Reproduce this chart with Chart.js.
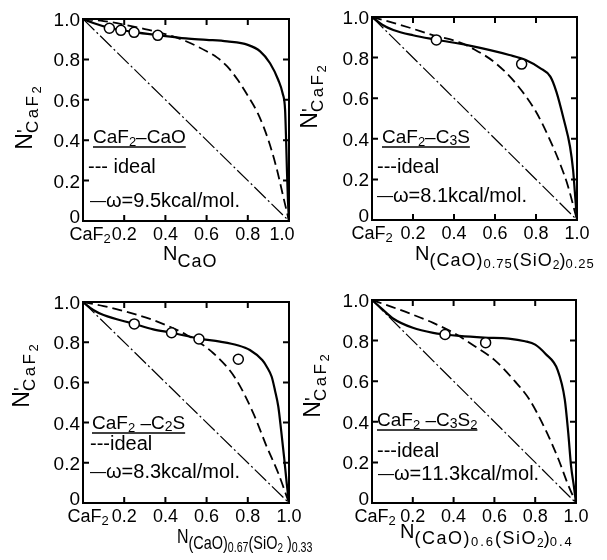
<!DOCTYPE html>
<html><head><meta charset="utf-8">
<script src="https://cdn.jsdelivr.net/npm/chart.js@4/dist/chart.umd.min.js"></script>
<style>
html,body{margin:0;padding:0;background:#fff;}
#wrap{position:relative;width:607px;height:560px;overflow:hidden;background:#fff;}
canvas{position:absolute;left:0;top:0;}
</style></head><body>
<div id="wrap">
<canvas id="c1" width="607" height="560"></canvas>
<canvas id="c2" width="607" height="560"></canvas>
<canvas id="c3" width="607" height="560"></canvas>
<canvas id="c4" width="607" height="560"></canvas>
</div>
<script>
// ---- shared axis ticks ----
const tickValues = [0, 0.2, 0.4, 0.6, 0.8, 1.0];
const yTickLabels = ['0', '0.2', '0.4', '0.6', '0.8', '1.0'];
const xTickLabels = ['CaF2', '0.2', '0.4', '0.6', '0.8', '1.0'];
const innerTicks = [0.2, 0.4, 0.6, 0.8];
const diagX = [0, 1];
const diagY = [1, 0];

// ---- Panel 1: CaF2-CaO ----
const p1IdealX = [0, 0.1, 0.2, 0.3, 0.4, 0.5, 0.6, 0.65, 0.7, 0.75, 0.8, 0.85, 0.9, 0.94, 0.97, 1];
const p1IdealY = [1, 0.99, 0.972, 0.95, 0.925, 0.89, 0.84, 0.81, 0.765, 0.70, 0.62, 0.53, 0.40, 0.26, 0.13, 0];
const p1OmegaX = [0, 0.05, 0.128, 0.184, 0.248, 0.363, 0.5, 0.6, 0.7, 0.8, 0.86, 0.908, 0.948, 0.969, 0.981, 0.986, 0.99, 0.995, 1];
const p1OmegaY = [1, 0.98, 0.956, 0.946, 0.935, 0.92, 0.904, 0.897, 0.889, 0.872, 0.84, 0.781, 0.698, 0.632, 0.55, 0.4, 0.25, 0.1, 0];
const p1ExpX = [0.128, 0.184, 0.248, 0.363];
const p1ExpY = [0.954, 0.944, 0.934, 0.919];

// ---- Panel 2: CaF2-C3S ----
const p2IdealX = [0, 0.1, 0.184, 0.3, 0.427, 0.5, 0.6, 0.7, 0.8, 0.87, 0.92, 0.955, 1];
const p2IdealY = [1, 0.972, 0.947, 0.91, 0.875, 0.84, 0.775, 0.675, 0.533, 0.39, 0.27, 0.17, 0];
const p2OmegaX = [0, 0.05, 0.104, 0.2, 0.314, 0.476, 0.67, 0.75, 0.82, 0.87, 0.9, 0.935, 0.966, 0.981, 0.99, 1];
const p2OmegaY = [1, 0.962, 0.936, 0.91, 0.888, 0.859, 0.813, 0.788, 0.748, 0.706, 0.63, 0.497, 0.361, 0.246, 0.131, 0];
const p2ExpX = [0.314, 0.73];
const p2ExpY = [0.887, 0.768];

// ---- Panel 3: CaF2-C2S ----
const p3IdealX = [0, 0.1, 0.18, 0.341, 0.503, 0.633, 0.74, 0.827, 0.892, 0.948, 1];
const p3IdealY = [1, 0.98, 0.96, 0.91, 0.836, 0.745, 0.62, 0.446, 0.28, 0.148, 0];
const p3OmegaX = [0, 0.05, 0.1, 0.249, 0.341, 0.43, 0.563, 0.665, 0.75, 0.81, 0.87, 0.892, 0.916, 0.932, 0.948, 0.962, 0.976, 0.989, 1];
const p3OmegaY = [1, 0.96, 0.935, 0.891, 0.864, 0.847, 0.818, 0.803, 0.785, 0.761, 0.711, 0.678, 0.628, 0.56, 0.48, 0.36, 0.23, 0.098, 0];
const p3ExpX = [0.249, 0.43, 0.563, 0.754];
const p3ExpY = [0.891, 0.847, 0.816, 0.715];

// ---- Panel 4: CaF2-C3S2 ----
const p4IdealX = [0, 0.1, 0.184, 0.3, 0.4, 0.5, 0.6, 0.7, 0.77, 0.85, 0.915, 0.958, 1];
const p4IdealY = [1, 0.965, 0.934, 0.887, 0.838, 0.775, 0.705, 0.6, 0.512, 0.362, 0.213, 0.098, 0];
const p4OmegaX = [0, 0.05, 0.103, 0.2, 0.3, 0.358, 0.427, 0.55, 0.67, 0.75, 0.8, 0.85, 0.91, 0.945, 0.962, 0.976, 0.99, 1];
const p4OmegaY = [1, 0.955, 0.909, 0.863, 0.838, 0.83, 0.823, 0.815, 0.81, 0.797, 0.78, 0.735, 0.655, 0.51, 0.345, 0.18, 0.08, 0];
const p4ExpX = [0.358, 0.557];
const p4ExpY = [0.83, 0.79];

// ---- text pieces ----
const FONT = '"Liberation Sans", Arial, sans-serif';

const yTitleSegs = [
  { t: 'N', s: 23 }, { t: '\'', s: 20, dy: -1, noAdv: true },
  { t: 'CaF', s: 17, dy: 6, ls: 2.5 }, { t: '2', s: 13, dy: 9 }
];

const panels = [
  {
    id: 'c1', pad: { left: 83, top: 19, right: 318, bottom: 339 },
    ideal: [p1IdealX, p1IdealY], omega: [p1OmegaX, p1OmegaY], exp: [p1ExpX, p1ExpY],
    firstShift: 7, lastShift: -7,
    yTitle: { cx: 27, cy: 118 },
    xTitle: { x: 163, y: 260, sx: 1, segs: [{ t: 'N', s: 20 }, { t: 'CaO', s: 18, dy: 7, ls: 1 }] },
    sys: { dx: 10, dy: 124, segs: [{ t: 'CaF', s: 19 }, { t: '2', s: 13, dy: 3 }, { t: '\u2013CaO', s: 19 }] },
    ideal_t: { dx: 5, dy: 154, segs: [{ t: '--- ideal', s: 20 }] },
    omega_t: { dx: 7, dy: 188, segs: [{ t: '\u2014', s: 16, dy: -1 }, { t: '\u03c9=9.5kcal/mol.', s: 20 }] }
  },
  {
    id: 'c2', pad: { left: 372, top: 17, right: 30, bottom: 340 },
    ideal: [p2IdealX, p2IdealY], omega: [p2OmegaX, p2OmegaY], exp: [p2ExpX, p2ExpY],
    firstShift: 0, lastShift: 0,
    yTitle: { cx: 312, cy: 97 },
    xTitle: { x: 415, y: 260, sx: 1, segs: [{ t: 'N', s: 20 }, { t: '(CaO)', s: 18, dy: 6, ls: 1 }, { t: '0.75', s: 13, dy: 8, ls: 1 },
      { t: '(SiO', s: 18, dy: 6, ls: 1 }, { t: '2', s: 12, dy: 9 }, { t: ')', s: 18, dy: 6 }, { t: '0.25', s: 13, dy: 8, ls: 1 }] },
    sys: { dx: 10, dy: 126, segs: [{ t: 'CaF', s: 19 }, { t: '2', s: 13, dy: 3 }, { t: '\u2013C', s: 19 }, { t: '3', s: 14, dy: 2 }, { t: 'S', s: 19 }] },
    ideal_t: { dx: 5, dy: 156, segs: [{ t: '---ideal', s: 20 }] },
    omega_t: { dx: 5, dy: 185, segs: [{ t: '\u2014', s: 16, dy: -1 }, { t: '\u03c9=8.1kcal/mol.', s: 20 }] }
  },
  {
    id: 'c3', pad: { left: 83, top: 302, right: 318, bottom: 57 },
    ideal: [p3IdealX, p3IdealY], omega: [p3OmegaX, p3OmegaY], exp: [p3ExpX, p3ExpY],
    firstShift: 5, lastShift: 0,
    yTitle: { cx: 24, cy: 376 },
    xTitle: { x: 177, y: 543, sx: 0.76, segs: [{ t: 'N', s: 21 }, { t: '(CaO)', s: 19, dy: 6 }, { t: '0.67', s: 14, dy: 9 },
      { t: '(SiO', s: 19, dy: 6 }, { t: '2', s: 13, dy: 9 }, { t: ' )', s: 19, dy: 6 }, { t: '0.33', s: 14, dy: 9 }] },
    sys: { dx: 9, dy: 127, segs: [{ t: 'CaF', s: 19 }, { t: '2', s: 13, dy: 3 }, { t: ' \u2013C', s: 19 }, { t: '2', s: 14, dy: 2 }, { t: 'S', s: 19 }] },
    ideal_t: { dx: 7, dy: 148, segs: [{ t: '---ideal', s: 20 }] },
    omega_t: { dx: 7, dy: 176, segs: [{ t: '\u2014', s: 16, dy: -1 }, { t: '\u03c9=8.3kcal/mol.', s: 20 }] }
  },
  {
    id: 'c4', pad: { left: 372, top: 300, right: 31, bottom: 57 },
    ideal: [p4IdealX, p4IdealY], omega: [p4OmegaX, p4OmegaY], exp: [p4ExpX, p4ExpY],
    firstShift: 3, lastShift: 0,
    yTitle: { cx: 315, cy: 386 },
    xTitle: { x: 400, y: 538, sx: 1, segs: [{ t: 'N', s: 20 }, { t: '(CaO)', s: 18, dy: 6, ls: 1.5 }, { t: '0.6', s: 13, dy: 8, ls: 2 },
      { t: '(SiO', s: 18, dy: 6, ls: 1.5 }, { t: '2', s: 12, dy: 9 }, { t: ')', s: 18, dy: 6 }, { t: '0.4', s: 13, dy: 8, ls: 2 }] },
    sys: { dx: 5, dy: 126, segs: [{ t: 'CaF', s: 19 }, { t: '2', s: 13, dy: 3 }, { t: ' \u2013C', s: 19 }, { t: '3', s: 14, dy: 2 }, { t: 'S', s: 19 }, { t: '2', s: 13, dy: 3 }] },
    ideal_t: { dx: 5, dy: 157, segs: [{ t: '---ideal', s: 20 }] },
    omega_t: { dx: 6, dy: 180, segs: [{ t: '\u2014', s: 16, dy: -1 }, { t: '\u03c9=11.3kcal/mol.', s: 20 }] }
  }
];

function richWidth(ctx, segs) {
  let w = 0;
  for (const s of segs) {
    ctx.font = s.s + 'px ' + FONT;
    const ls = s.ls || 0;
    let sw = 0;
    for (const ch of s.t) sw += ctx.measureText(ch).width + ls;
    if (!s.noAdv) w += sw;
  }
  return w;
}
function drawRich(ctx, segs, x, y) {
  let cx = x;
  for (const s of segs) {
    ctx.font = s.s + 'px ' + FONT;
    const ls = s.ls || 0;
    let px = cx;
    for (const ch of s.t) {
      ctx.fillText(ch, px, y + (s.dy || 0));
      px += ctx.measureText(ch).width + ls;
    }
    if (!s.noAdv) cx = px;
  }
  return cx - x;
}

function pts(xs, ys) { return xs.map((x, i) => ({ x: x, y: ys[i] })); }

function decorPlugin(p) {
  return {
    id: 'decor_' + p.id,
    afterDraw(chart) {
      const ctx = chart.ctx, a = chart.chartArea;
      const xs = chart.scales.x, ys = chart.scales.y;
      ctx.save();
      ctx.strokeStyle = '#000';
      ctx.fillStyle = '#000';
      ctx.lineWidth = 2;
      ctx.setLineDash([]);
      ctx.strokeRect(a.left, a.top, a.right - a.left, a.bottom - a.top);
      const tl = 6;
      ctx.beginPath();
      for (const v of innerTicks) {
        const px = xs.getPixelForValue(v);
        ctx.moveTo(px, a.bottom); ctx.lineTo(px, a.bottom - tl);
        ctx.moveTo(px, a.top); ctx.lineTo(px, a.top + tl);
        const py = ys.getPixelForValue(v);
        ctx.moveTo(a.left, py); ctx.lineTo(a.left + tl, py);
        ctx.moveTo(a.right, py); ctx.lineTo(a.right - tl, py);
      }
      ctx.stroke();
      // y tick labels
      ctx.textBaseline = 'alphabetic';
      ctx.textAlign = 'right';
      ctx.font = '19px ' + FONT;
      tickValues.forEach((v, i) => {
        const py = ys.getPixelForValue(v);
        const off = (i === 0) ? -5 : 0;
        ctx.fillText(yTickLabels[i], a.left - 3, py + 7 + off);
      });
      // x tick labels
      ctx.textAlign = 'left';
      tickValues.forEach((v, i) => {
        const lab = xTickLabels[i];
        let segs;
        if (lab === 'CaF2') segs = [{ t: 'CaF', s: 18 }, { t: '2', s: 13, dy: 3 }];
        else segs = [{ t: lab, s: 18 }];
        const w = richWidth(ctx, segs);
        let px = xs.getPixelForValue(v) - w / 2;
        if (i === 0) px += p.firstShift;
        if (i === tickValues.length - 1) px += p.lastShift;
        drawRich(ctx, segs, px, a.bottom + 19);
      });
      // y title (rotated)
      ctx.save();
      ctx.translate(p.yTitle.cx, p.yTitle.cy);
      ctx.rotate(-Math.PI / 2);
      const tw = richWidth(ctx, yTitleSegs);
      drawRich(ctx, yTitleSegs, -tw / 2, 5);
      ctx.restore();
      // x title
      ctx.save();
      ctx.translate(p.xTitle.x, p.xTitle.y);
      ctx.scale(p.xTitle.sx, 1);
      drawRich(ctx, p.xTitle.segs, 0, 0);
      ctx.restore();
      // legend texts
      const sx = a.left + p.sys.dx, sy = a.top + p.sys.dy;
      const sw = drawRich(ctx, p.sys.segs, sx, sy);
      ctx.lineWidth = 1.5;
      ctx.beginPath();
      ctx.moveTo(sx, sy + 4); ctx.lineTo(sx + sw, sy + 4);
      ctx.stroke();
      drawRich(ctx, p.ideal_t.segs, a.left + p.ideal_t.dx, a.top + p.ideal_t.dy);
      drawRich(ctx, p.omega_t.segs, a.left + p.omega_t.dx, a.top + p.omega_t.dy);
      ctx.restore();
    }
  };
}

for (const p of panels) {
  new Chart(document.getElementById(p.id), {
    type: 'scatter',
    data: {
      datasets: [
        { label: 'exp', data: pts(p.exp[0], p.exp[1]), order: 0, showLine: false,
          pointStyle: 'circle', pointRadius: 5, pointBackgroundColor: '#fff',
          pointBorderColor: '#000', pointBorderWidth: 1.5 },
        { label: 'omega', data: pts(p.omega[0], p.omega[1]), order: 1, showLine: true,
          borderColor: '#000', borderWidth: 2.2, pointRadius: 0, cubicInterpolationMode: 'monotone' },
        { label: 'ideal', data: pts(p.ideal[0], p.ideal[1]), order: 2, showLine: true,
          borderColor: '#000', borderWidth: 1.8, borderDash: [10, 5], pointRadius: 0, cubicInterpolationMode: 'monotone' },
        { label: 'diag', data: pts(diagX, diagY), order: 3, showLine: true,
          borderColor: '#000', borderWidth: 1.2, borderDash: [16, 3, 2, 3], pointRadius: 0 }
      ]
    },
    options: {
      responsive: false, animation: false, devicePixelRatio: 1, events: [],
      layout: { padding: p.pad },
      plugins: { legend: { display: false }, tooltip: { enabled: false } },
      scales: {
        x: { type: 'linear', min: 0, max: 1, display: false },
        y: { type: 'linear', min: 0, max: 1, display: false }
      }
    },
    plugins: [decorPlugin(p)]
  });
}
</script>
</body></html>
